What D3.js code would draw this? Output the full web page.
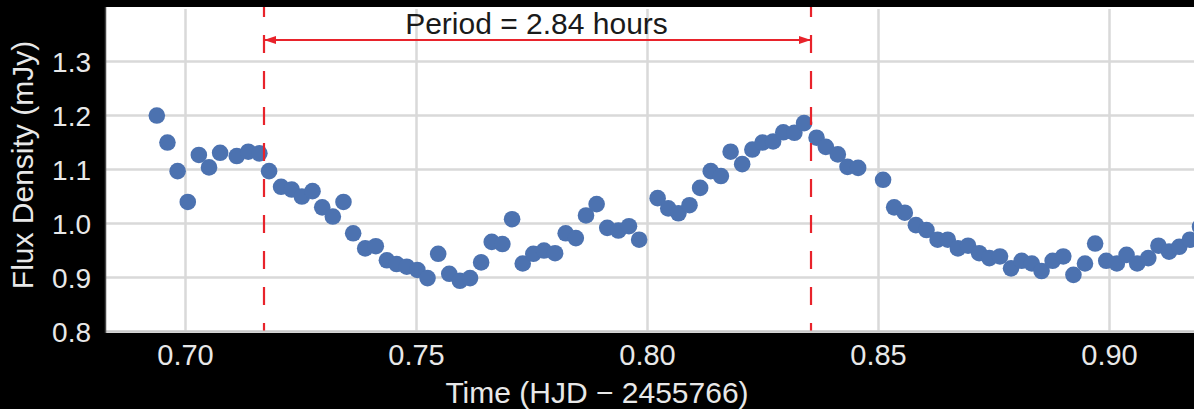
<!DOCTYPE html>
<html>
<head>
<meta charset="utf-8">
<script src="https://cdn.jsdelivr.net/npm/d3@7"></script>
<style>
  html, body { margin: 0; padding: 0; background: #000; }
  svg { display: block; }
  text { font-family: "Liberation Sans", Arial, Helvetica, sans-serif; }
</style>
</head>
<body>
<svg id="chart" width="1194" height="409"></svg>
<script>
// ---- data ----
const timeValues = [
  0.6939, 0.6962, 0.6984, 0.7006, 0.7030, 0.7052, 0.7076, 0.7112, 0.7137, 0.7161,
  0.7182, 0.7208, 0.7231, 0.7253, 0.7276, 0.7297, 0.7320, 0.7343, 0.7364, 0.7390,
  0.7413, 0.7437, 0.7458, 0.7480, 0.7503, 0.7525, 0.7548, 0.7572, 0.7595, 0.7617,
  0.7641, 0.7664, 0.7687, 0.7708, 0.7731, 0.7754, 0.7777, 0.7801, 0.7824, 0.7846,
  0.7868, 0.7891, 0.7914, 0.7938, 0.7961, 0.7983, 0.8023, 0.8046, 0.8068, 0.8092,
  0.8115, 0.8138, 0.8160, 0.8181, 0.8206, 0.8228, 0.8250, 0.8273, 0.8295, 0.8319,
  0.8340, 0.8367, 0.8387, 0.8413, 0.8434, 0.8457, 0.8511, 0.8535, 0.8558, 0.8582,
  0.8605, 0.8629, 0.8651, 0.8673, 0.8695, 0.8719, 0.8741, 0.8764, 0.8788, 0.8811,
  0.8833, 0.8854, 0.8878, 0.8901, 0.8923, 0.8948, 0.8970, 0.8994, 0.9017, 0.9038,
  0.9061, 0.9085, 0.9107, 0.9130, 0.9152, 0.9175, 0.9197
];
const fluxValues = [
  1.199, 1.149, 1.096, 1.039, 1.126, 1.103, 1.130, 1.124, 1.132, 1.129,
  1.096, 1.067, 1.062, 1.049, 1.059, 1.029, 1.012, 1.039, 0.981, 0.953,
  0.957, 0.931, 0.924, 0.919, 0.913, 0.898, 0.943, 0.906, 0.893, 0.898,
  0.927, 0.965, 0.961, 1.007, 0.925, 0.943, 0.949, 0.944, 0.981, 0.972,
  1.014, 1.035, 0.991, 0.986, 0.994, 0.969, 1.046, 1.027, 1.018, 1.033,
  1.065, 1.096, 1.087, 1.132, 1.109, 1.136, 1.149, 1.151, 1.168, 1.167,
  1.185, 1.158, 1.141, 1.127, 1.104, 1.102, 1.080, 1.029, 1.019, 0.996,
  0.987, 0.969, 0.969, 0.953, 0.958, 0.944, 0.935, 0.938, 0.916, 0.930,
  0.925, 0.911, 0.930, 0.938, 0.904, 0.925, 0.962, 0.930, 0.925, 0.941,
  0.925, 0.935, 0.958, 0.947, 0.956, 0.969, 0.993
];
const xTicks = [0.70, 0.75, 0.80, 0.85, 0.90];
const yTicks = [0.8, 0.9, 1.0, 1.1, 1.2, 1.3];
const periodMarkers = [0.7171, 0.8355];
const periodLabel = "Period = 2.84 hours";
const xTitle = "Time (HJD \u2212 2455766)";
const yTitle = "Flux Density (mJy)";

// ---- layout ----
const W = 1194, H = 409;
const plot = { left: 105, top: 7, right: 1194, bottom: 333 };

const x = d3.scaleLinear().domain([0.70, 0.90]).range([185, 1109]);
const y = d3.scaleLinear().domain([0.8, 1.4]).range([331, 7]);

const svg = d3.select("#chart");
svg.append("rect").attr("width", W).attr("height", H).attr("fill", "#000");

svg.append("defs").append("clipPath").attr("id", "plotclip")
  .append("rect")
  .attr("x", plot.left).attr("y", plot.top)
  .attr("width", plot.right - plot.left).attr("height", plot.bottom - plot.top);

svg.append("rect")
  .attr("x", plot.left).attr("y", plot.top)
  .attr("width", plot.right - plot.left).attr("height", plot.bottom - plot.top)
  .attr("fill", "#fff");

const g = svg.append("g").attr("clip-path", "url(#plotclip)");

// grid lines via axes
const yGrid = d3.axisLeft(y).tickValues(yTicks).tickSize(-(plot.right - plot.left)).tickFormat("");
g.append("g").attr("transform", `translate(${plot.left},0)`).call(yGrid)
  .call(s => s.select(".domain").remove())
  .call(s => s.selectAll("line").attr("stroke", "#d9d9d9").attr("stroke-width", 2.5));

const xGrid = d3.axisBottom(x).tickValues(xTicks).tickSize(-(331 - 9)).tickFormat("");
g.append("g").attr("transform", `translate(0,331)`).call(xGrid)
  .call(s => s.select(".domain").remove())
  .call(s => s.selectAll("line").attr("stroke", "#d9d9d9").attr("stroke-width", 2.5));

// bottom axis line
svg.append("line")
  .attr("x1", plot.left).attr("x2", plot.right)
  .attr("y1", 331.5).attr("y2", 331.5)
  .attr("stroke", "#c8c8c8").attr("stroke-width", 2);
// left axis line
svg.append("line")
  .attr("x1", plot.left + 0.5).attr("x2", plot.left + 0.5)
  .attr("y1", plot.top).attr("y2", plot.bottom)
  .attr("stroke", "#444").attr("stroke-width", 1.5);

// points
g.append("g").selectAll("circle")
  .data(timeValues.map((t, i) => ({ t, f: fluxValues[i] })))
  .join("circle")
  .attr("cx", d => x(d.t))
  .attr("cy", d => y(d.f))
  .attr("r", 8.3)
  .attr("fill", "#4C72B0");

// period dashed lines
g.append("g").selectAll("line")
  .data(periodMarkers)
  .join("line")
  .attr("x1", d => x(d)).attr("x2", d => x(d))
  .attr("y1", plot.top).attr("y2", 331)
  .attr("stroke", "#e8232b").attr("stroke-width", 2.2)
  .attr("stroke-dasharray", "18,18")
  .attr("stroke-dashoffset", 8);

// arrow
const defs = svg.select("defs");
defs.append("marker").attr("id", "arrowEnd")
  .attr("viewBox", "0 0 12 8").attr("refX", 12).attr("refY", 4)
  .attr("markerWidth", 12).attr("markerHeight", 8)
  .attr("markerUnits", "userSpaceOnUse").attr("orient", "auto")
  .append("path").attr("d", "M0,0 L12,4 L0,8 Z").attr("fill", "#e8232b");
defs.append("marker").attr("id", "arrowStart")
  .attr("viewBox", "0 0 12 8").attr("refX", 12).attr("refY", 4)
  .attr("markerWidth", 12).attr("markerHeight", 8)
  .attr("markerUnits", "userSpaceOnUse").attr("orient", "auto-start-reverse")
  .append("path").attr("d", "M0,0 L12,4 L0,8 Z").attr("fill", "#e8232b");

svg.append("line")
  .attr("x1", x(periodMarkers[0])).attr("x2", x(periodMarkers[1]))
  .attr("y1", 40).attr("y2", 40)
  .attr("stroke", "#e8232b").attr("stroke-width", 2)
  .attr("marker-start", "url(#arrowStart)")
  .attr("marker-end", "url(#arrowEnd)");

svg.append("text")
  .attr("x", (x(periodMarkers[0]) + x(periodMarkers[1])) / 2 - 1)
  .attr("y", 34)
  .attr("text-anchor", "middle")
  .attr("font-size", 30)
  .attr("fill", "#1a1a1a")
  .text(periodLabel);

// tick labels via axes
const xAxis = d3.axisBottom(x).tickValues(xTicks).tickSize(0).tickPadding(0).tickFormat(d3.format(".2f"));
svg.append("g").attr("transform", "translate(0,0)").call(xAxis)
  .call(s => s.select(".domain").remove())
  .call(s => s.selectAll("text")
    .attr("y", 365).attr("dy", null)
    .attr("font-size", 29).attr("fill", "#e8e8e8")
    .attr("font-family", "Liberation Sans, Arial, sans-serif"));

const yAxis = d3.axisLeft(y).tickValues(yTicks).tickSize(0).tickPadding(0).tickFormat(d3.format(".1f"));
svg.append("g").attr("transform", "translate(91,0)").call(yAxis)
  .call(s => s.select(".domain").remove())
  .call(s => s.selectAll("text")
    .attr("x", 0).attr("dy", "0.36em")
    .attr("font-size", 28).attr("fill", "#e8e8e8")
    .attr("font-family", "Liberation Sans, Arial, sans-serif"));

// axis titles
svg.append("text")
  .attr("x", 597).attr("y", 403)
  .attr("text-anchor", "middle")
  .attr("font-size", 30).attr("fill", "#e8e8e8")
  .text(xTitle);

svg.append("text")
  .attr("transform", "translate(33,165) rotate(-90)")
  .attr("text-anchor", "middle")
  .attr("font-size", 30).attr("fill", "#e8e8e8")
  .text(yTitle);
</script>
</body>
</html>
